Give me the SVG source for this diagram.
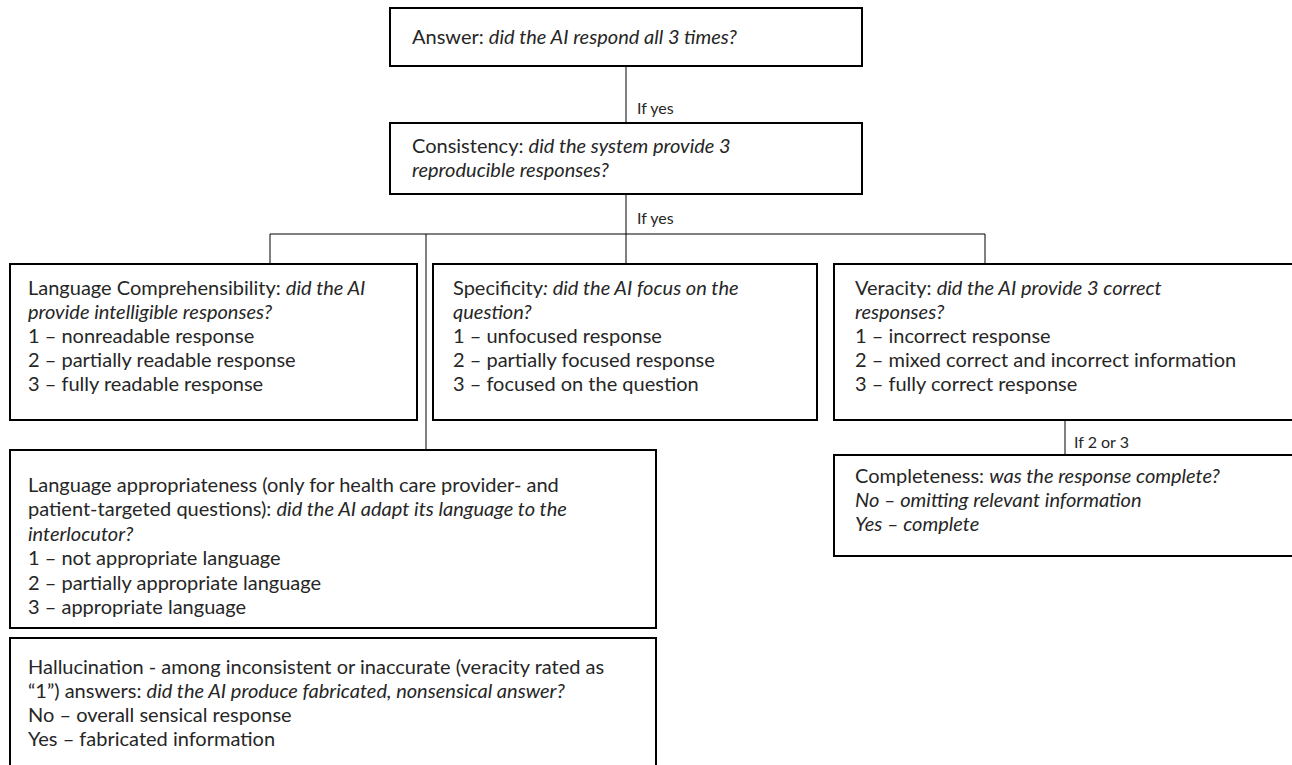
<svg xmlns="http://www.w3.org/2000/svg" width="1292" height="765" viewBox="0 0 1292 765">
<style>
.box{fill:#fff;stroke:#000;stroke-width:2}
.t{font-family:Lato,"Open Sans","Liberation Sans",sans-serif;font-size:20px;fill:#262626}
.i{font-style:italic}
.lbl{font-family:Lato,"Open Sans","Liberation Sans",sans-serif;font-size:16px;fill:#262626}
.c{stroke:#000;stroke-width:1;fill:none}
</style>
<rect width="1292" height="765" fill="#fff"/>
<g id="connectors">
<line class="c" x1="626" y1="66" x2="626" y2="123"/>
<line class="c" x1="626" y1="194" x2="626" y2="264"/>
<line class="c" x1="270" y1="234" x2="985" y2="234"/>
<line class="c" x1="270" y1="234" x2="270" y2="264"/>
<line class="c" x1="426" y1="234" x2="426" y2="450"/>
<line class="c" x1="985" y1="234" x2="985" y2="264"/>
<line class="c" x1="1065" y1="420" x2="1065" y2="455"/>
<text class="lbl" x="637" y="114">If yes</text>
<text class="lbl" x="637" y="224">If yes</text>
<text class="lbl" x="1074" y="448">If 2 or 3</text>
</g>
<g id="answer">
<rect class="box" x="390" y="8" width="472" height="58"/>
<text class="t" x="412" y="44">Answer: <tspan class="i">did the AI respond all 3 times?</tspan></text>
</g>
<g id="consistency">
<rect class="box" x="390" y="123" width="472" height="71"/>
<text class="t" x="412" y="153">Consistency: <tspan class="i">did the system provide 3</tspan></text>
<text class="t i" x="412" y="177">reproducible responses?</text>
</g>
<g id="comprehensibility">
<rect class="box" x="10" y="264" width="407" height="156"/>
<text class="t" x="28" y="295">Language Comprehensibility: <tspan class="i">did the AI</tspan></text>
<text class="t i" x="28" y="319">provide intelligible responses?</text>
<text class="t" x="28" y="343">1 – nonreadable response</text>
<text class="t" x="28" y="367">2 – partially readable response</text>
<text class="t" x="28" y="391">3 – fully readable response</text>
</g>
<g id="specificity">
<rect class="box" x="433" y="264" width="384" height="156"/>
<text class="t" x="453" y="295">Specificity<tspan class="i">: did the AI focus on the</tspan></text>
<text class="t i" x="453" y="319">question?</text>
<text class="t" x="453" y="343">1 – unfocused response</text>
<text class="t" x="453" y="367">2 – partially focused response</text>
<text class="t" x="453" y="391">3 – focused on the question</text>
</g>
<g id="veracity">
<rect class="box" x="834" y="264" width="470" height="156"/>
<text class="t" x="855" y="295">Veracity: <tspan class="i">did the AI provide 3 correct</tspan></text>
<text class="t i" x="855" y="319">responses?</text>
<text class="t" x="855" y="343">1 – incorrect response</text>
<text class="t" x="855" y="367">2 – mixed correct and incorrect information</text>
<text class="t" x="855" y="391">3 – fully correct response</text>
</g>
<g id="completeness">
<rect class="box" x="834" y="455" width="470" height="101"/>
<text class="t" x="855" y="483">Completeness: <tspan class="i">was the response complete?</tspan></text>
<text class="t i" x="855" y="507">No – omitting relevant information</text>
<text class="t i" x="855" y="531">Yes – complete</text>
</g>
<g id="appropriateness">
<rect class="box" x="10" y="450" width="646" height="178"/>
<text class="t" x="28" y="492">Language appropriateness (only for health care provider- and</text>
<text class="t" x="28" y="516">patient-targeted questions): <tspan class="i">did the AI adapt its language to the</tspan></text>
<text class="t i" x="28" y="541">interlocutor?</text>
<text class="t" x="28" y="565">1 – not appropriate language</text>
<text class="t" x="28" y="590">2 – partially appropriate language</text>
<text class="t" x="28" y="614">3 – appropriate language</text>
</g>
<g id="hallucination">
<rect class="box" x="10" y="638" width="646" height="140"/>
<text class="t" x="28" y="674">Hallucination - among inconsistent or inaccurate (veracity rated as</text>
<text class="t" x="28" y="698">“1”) answers: <tspan class="i">did the AI produce fabricated, nonsensical answer?</tspan></text>
<text class="t" x="28" y="722">No – overall sensical response</text>
<text class="t" x="28" y="746">Yes – fabricated information</text>
</g>
</svg>
